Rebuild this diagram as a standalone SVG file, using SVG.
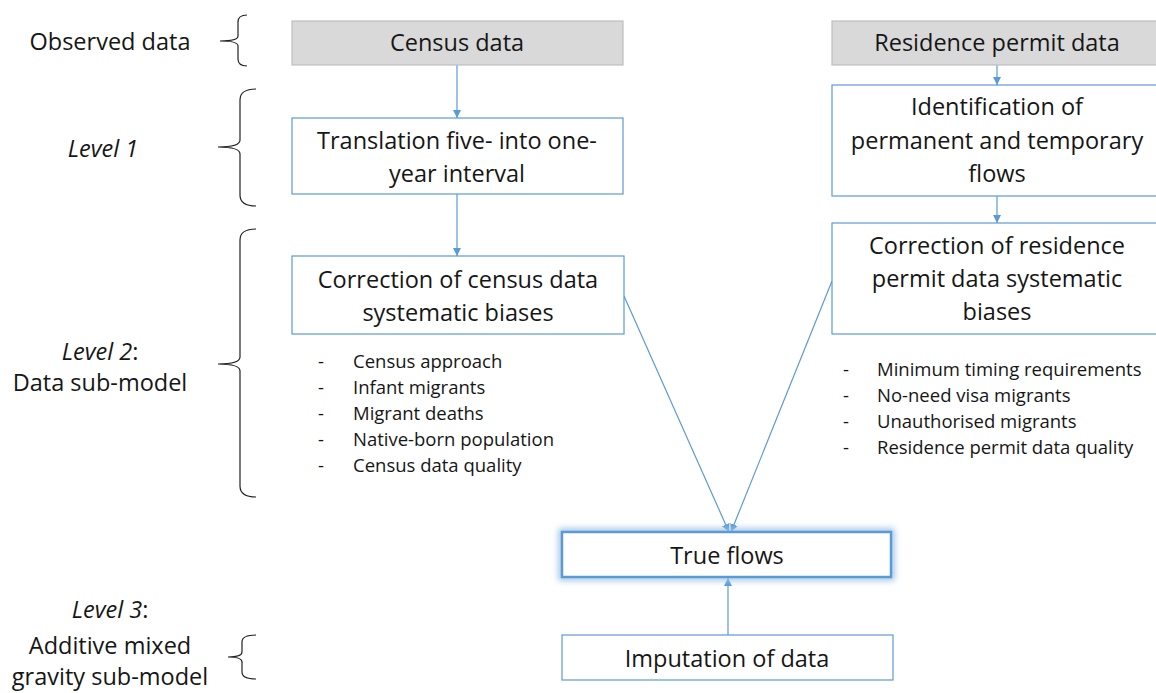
<svg xmlns="http://www.w3.org/2000/svg" width="1156" height="693" viewBox="0 0 1156 693">
  <style>
    text { font-family: "Open Sans", "Liberation Sans", sans-serif; fill: #161616; }
    .box { fill: #ffffff; stroke: #5b9bd5; stroke-width: 1.2; }
    .src { fill: #d9d9d9; stroke: #bfbfbf; stroke-width: 1.2; }
    .bt { font-size: 23.5px; text-anchor: middle; }
    .lt { font-size: 23.5px; text-anchor: middle; }
    .li { font-size: 18.5px; }
    .brace { fill: none; stroke: #222; stroke-width: 1.2; }
    .conn { fill: none; stroke: #5b9bd5; stroke-width: 1.2; marker-end: url(#arrow); }
  </style>
  <defs>
    <marker id="arrow" viewBox="0 0 10 10" refX="10" refY="5" markerWidth="8" markerHeight="8" markerUnits="userSpaceOnUse" orient="auto">
      <path d="M0,0 L10,5 L0,10 z" fill="#5b9bd5"/>
    </marker>
    <filter id="glow" x="-10%" y="-40%" width="120%" height="180%">
      <feGaussianBlur stdDeviation="3"/>
    </filter>
  </defs>

  <rect width="1156" height="693" fill="#ffffff"/>

  <!-- level labels and braces -->
  <g id="label-observed">
    <text class="lt" x="110" y="50">Observed data</text>
    <path class="brace" d="M247,15 Q238,15 238,22 L238,36 Q238,41 220,41 Q238,41 238,46 L238,59 Q238,66 247,66"/>
  </g>
  <g id="label-level1">
    <text class="lt" x="103" y="157" font-style="italic">Level 1</text>
    <path class="brace" d="M256,89 Q240,89 240,100 L240,140 Q240,147 218,147 Q240,147 240,154 L240,195 Q240,206 256,206"/>
  </g>
  <g id="label-level2">
    <text class="lt" x="100" y="360"><tspan font-style="italic">Level 2</tspan>:</text>
    <text class="lt" x="100" y="391">Data sub-model</text>
    <path class="brace" d="M256,229 Q240,229 240,240 L240,357 Q240,364 218,364 Q240,364 240,371 L240,486 Q240,497 256,497"/>
  </g>
  <g id="label-level3">
    <text class="lt" x="110" y="618"><tspan font-style="italic">Level 3</tspan>:</text>
    <text class="lt" x="110" y="654">Additive mixed</text>
    <text class="lt" x="110" y="685">gravity sub-model</text>
    <path class="brace" d="M256,635 Q242,635 242,642 L242,652 Q242,657 228,657 Q242,657 242,662 L242,672 Q242,679 256,679"/>
  </g>

  <!-- connectors -->
  <g id="connectors">
    <line class="conn" x1="457" y1="65" x2="457" y2="118"/>
    <line class="conn" x1="457" y1="194" x2="457" y2="256"/>
    <line class="conn" x1="997" y1="65" x2="997" y2="85"/>
    <line class="conn" x1="997" y1="196" x2="997" y2="223"/>
    <line class="conn" x1="624" y1="296" x2="729" y2="532"/>
    <line class="conn" x1="832" y1="281" x2="731" y2="532"/>
    <line class="conn" x1="728" y1="635" x2="728" y2="578"/>
  </g>

  <!-- census branch -->
  <g id="census-data">
    <rect class="src" x="292" y="21" width="331" height="44"/>
    <text class="bt" x="457" y="51">Census data</text>
  </g>
  <g id="translation">
    <rect class="box" x="292" y="118" width="331" height="76"/>
    <text class="bt" x="457" y="149">Translation five- into one-</text>
    <text class="bt" x="457" y="182">year interval</text>
  </g>
  <g id="census-correction">
    <rect class="box" x="292" y="256" width="332" height="78"/>
    <text class="bt" x="458" y="288">Correction of census data</text>
    <text class="bt" x="458" y="321">systematic biases</text>
    <g class="li">
      <text x="318" y="368">-</text><text x="353" y="368">Census approach</text>
      <text x="318" y="394">-</text><text x="353" y="394">Infant migrants</text>
      <text x="318" y="420">-</text><text x="353" y="420">Migrant deaths</text>
      <text x="318" y="446">-</text><text x="353" y="446">Native-born population</text>
      <text x="318" y="472">-</text><text x="353" y="472">Census data quality</text>
    </g>
  </g>

  <!-- residence permit branch -->
  <g id="residence-data">
    <rect class="src" x="832" y="21" width="330" height="44"/>
    <text class="bt" x="997" y="51">Residence permit data</text>
  </g>
  <g id="identification">
    <rect class="box" x="832" y="85" width="330" height="111"/>
    <text class="bt" x="997" y="115">Identification of</text>
    <text class="bt" x="997" y="149">permanent and temporary</text>
    <text class="bt" x="997" y="182">flows</text>
  </g>
  <g id="residence-correction">
    <rect class="box" x="832" y="223" width="330" height="111"/>
    <text class="bt" x="997" y="254">Correction of residence</text>
    <text class="bt" x="997" y="287">permit data systematic</text>
    <text class="bt" x="997" y="320">biases</text>
    <g class="li">
      <text x="843" y="376">-</text><text x="877" y="376">Minimum timing requirements</text>
      <text x="843" y="402">-</text><text x="877" y="402">No-need visa migrants</text>
      <text x="843" y="428">-</text><text x="877" y="428">Unauthorised migrants</text>
      <text x="843" y="454">-</text><text x="877" y="454">Residence permit data quality</text>
    </g>
  </g>

  <!-- outcome -->
  <g id="true-flows">
    <rect x="562" y="532" width="329" height="45" fill="none" stroke="#9dc3e6" stroke-width="7" filter="url(#glow)"/>
    <rect x="562" y="532" width="329" height="45" fill="#ffffff" stroke="#5b9bd5" stroke-width="2.5"/>
    <text class="bt" x="727" y="564">True flows</text>
  </g>
  <g id="imputation">
    <rect class="box" x="562" y="635" width="331" height="45"/>
    <text class="bt" x="727" y="667">Imputation of data</text>
  </g>
</svg>
